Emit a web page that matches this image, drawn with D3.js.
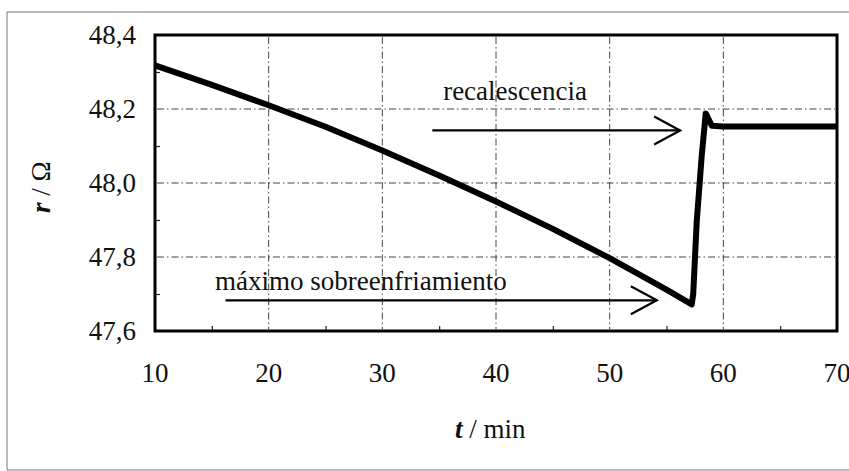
<!DOCTYPE html>
<html>
<head>
<meta charset="utf-8">
<script src="https://cdn.jsdelivr.net/npm/d3@7"></script>
<style>
  html, body { margin: 0; padding: 0; background: #fff; }
  svg { display: block; }
  text { font-family: "Liberation Serif", "Times New Roman", serif; fill: #111; }
</style>
</head>
<body>
<svg id="chart" width="849" height="471"></svg>
<script>
// Resistance of the thermometer versus time during cooling, with recalescence.
const timeMin = [10, 15, 20, 25, 30, 35, 40, 45, 50, 55, 57.22,
                 57.35, 57.66, 58.1, 58.45, 58.98, 60, 65, 70];
const resistance = [48.318, 48.265, 48.21, 48.152, 48.088, 48.02, 47.95, 47.876, 47.797, 47.712, 47.672,
                    47.70, 47.896, 48.074, 48.188, 48.155, 48.153, 48.153, 48.153];

const xTicks = [10, 20, 30, 40, 50, 60, 70];
const yTicks = [47.6, 47.8, 48.0, 48.2, 48.4];
const xMinorTicks = [15, 25, 35, 45, 55, 65];
const yMinorTicks = [47.7, 47.9, 48.1, 48.3];

const annotations = [
  { label: "recalescencia", tx: 35.35, ty: 48.224, from: [34.4, 48.142], to: [56.2, 48.142] },
  { label: "máximo sobreenfriamiento", tx: 15.28, ty: 47.712, from: [16.2, 47.683], to: [54.15, 47.683] }
];

const svg = d3.select("#chart");
const plotL = 155, plotR = 837, plotT = 35, plotB = 331;
const fontSize = 27;

const x = d3.scaleLinear().domain([10, 70]).range([plotL, plotR]);
const y = d3.scaleLinear().domain([47.6, 48.4]).range([plotB, plotT]);

// outer frame
svg.append("path")
  .attr("d", `M849,12 H7 V470 H849`)
  .attr("fill", "none").attr("stroke", "#777").attr("stroke-width", 1);

// dash-dot grid
const gridStyle = g => g.attr("stroke", "#444").attr("stroke-width", 1)
  .attr("stroke-dasharray", "7,3,1.5,3");
svg.append("g").selectAll("line").data(xTicks.slice(1, -1)).join("line")
  .attr("x1", d => x(d)).attr("x2", d => x(d)).attr("y1", plotT + 2).attr("y2", plotB - 2)
  .call(gridStyle);
svg.append("g").selectAll("line").data(yTicks.slice(1, -1)).join("line")
  .attr("y1", d => y(d)).attr("y2", d => y(d)).attr("x1", plotL + 2).attr("x2", plotR - 2)
  .call(gridStyle);

// axes with inward minor ticks
const xAxis = svg.append("g").attr("transform", `translate(0,${plotB})`)
  .call(d3.axisBottom(x).tickValues(xMinorTicks).tickSize(-5).tickFormat(""));
const yAxis = svg.append("g").attr("transform", `translate(${plotL},0)`)
  .call(d3.axisLeft(y).tickValues(yMinorTicks).tickSize(-5).tickFormat(""));
[xAxis, yAxis].forEach(a => {
  a.select(".domain").remove();
  a.selectAll(".tick line").attr("stroke", "#222").attr("stroke-width", 1.2);
});

// tick labels
const fmt = d => d.toFixed(1).replace(".", ",");
svg.append("g").selectAll("text").data(xTicks).join("text")
  .attr("x", d => x(d)).attr("y", 382)
  .attr("text-anchor", "middle").attr("font-size", fontSize)
  .text(d => d);
svg.append("g").selectAll("text").data(yTicks).join("text")
  .attr("x", 136).attr("y", d => y(d) + 9)
  .attr("text-anchor", "end").attr("font-size", fontSize)
  .text(fmt);

// plot border
svg.append("rect")
  .attr("x", plotL).attr("y", plotT).attr("width", plotR - plotL).attr("height", plotB - plotT)
  .attr("fill", "none").attr("stroke", "#000").attr("stroke-width", 3);

// resistance curve
const pts = timeMin.map((t, i) => [t, resistance[i]]);
svg.append("path")
  .datum(pts)
  .attr("d", d3.line().x(d => x(d[0])).y(d => y(d[1])))
  .attr("fill", "none").attr("stroke", "#000").attr("stroke-width", 6)
  .attr("stroke-linejoin", "round").attr("stroke-linecap", "butt");

// annotations with open arrowheads
const ann = svg.append("g");
annotations.forEach(a => {
  ann.append("text").attr("x", x(a.tx)).attr("y", y(a.ty))
    .attr("font-size", fontSize).text(a.label);
  const x1 = x(a.from[0]), y1 = y(a.from[1]), x2 = x(a.to[0]), y2 = y(a.to[1]);
  ann.append("line").attr("x1", x1).attr("y1", y1).attr("x2", x2).attr("y2", y2)
    .attr("stroke", "#000").attr("stroke-width", 2.2);
  ann.append("path")
    .attr("d", `M${x2 - 26},${y2 - 14} L${x2},${y2} L${x2 - 26},${y2 + 14}`)
    .attr("fill", "none").attr("stroke", "#000").attr("stroke-width", 2.2);
});

// axis titles
const xt = svg.append("text").attr("x", 455).attr("y", 438).attr("font-size", fontSize);
xt.append("tspan").attr("font-weight", "bold").attr("font-style", "italic").text("t");
xt.append("tspan").text("  / min");

const yt = svg.append("text")
  .attr("transform", "translate(50,213) rotate(-90)")
  .attr("font-size", fontSize);
yt.append("tspan").attr("font-weight", "bold").attr("font-style", "italic").text("r");
yt.append("tspan").text("  / Ω");
</script>
</body>
</html>
